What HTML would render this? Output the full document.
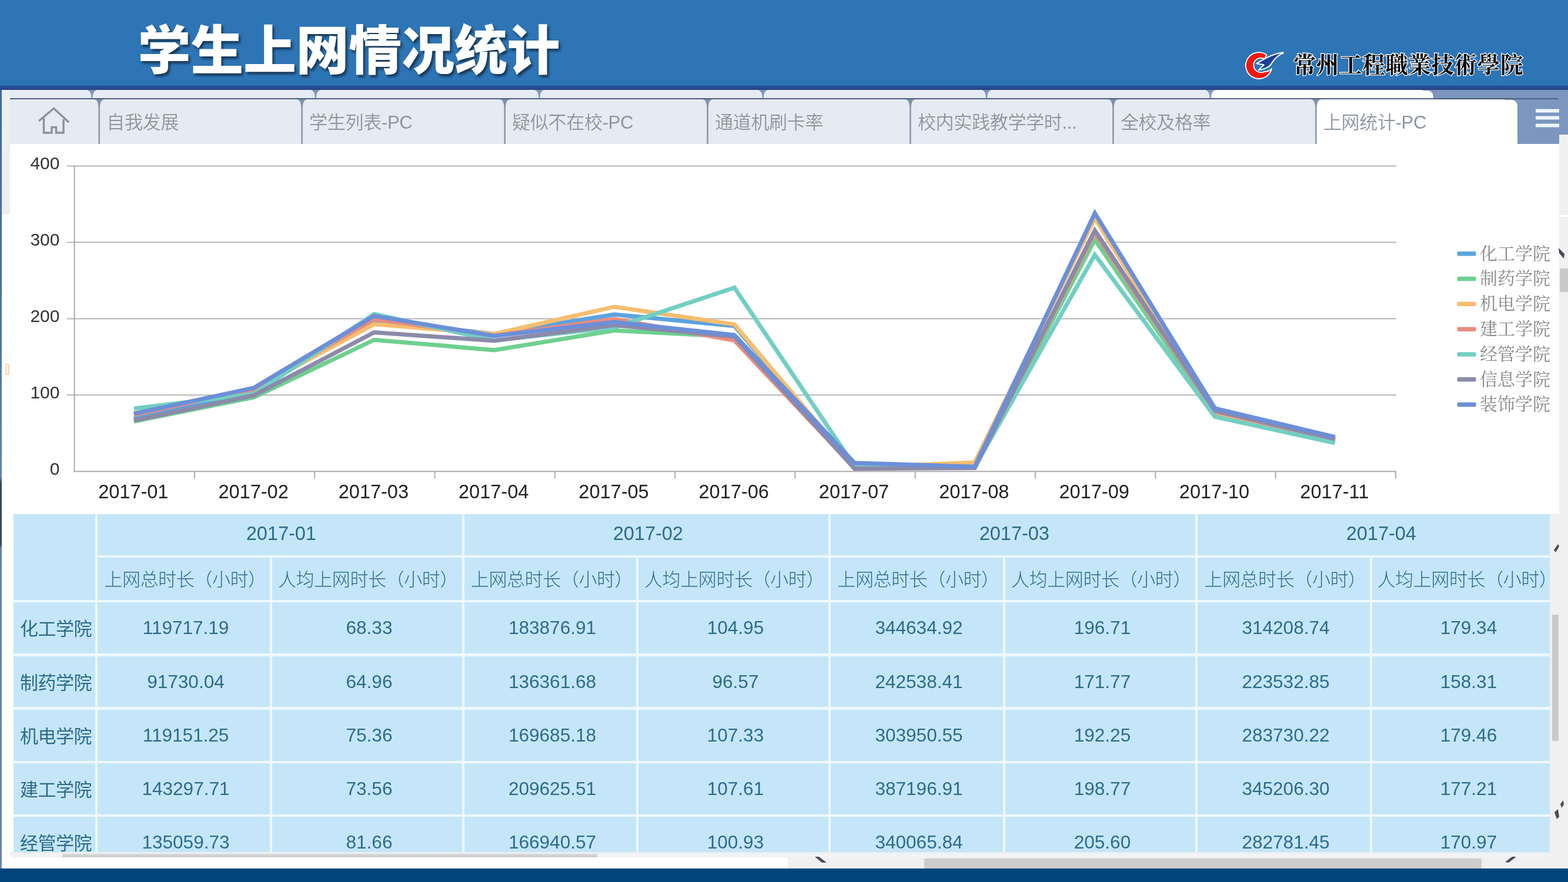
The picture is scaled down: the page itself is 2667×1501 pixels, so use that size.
<!DOCTYPE html><html lang="zh-CN"><head><meta charset="utf-8"><title>学生上网情况统计</title><style>
*{box-sizing:border-box;margin:0;padding:0}
html,body{width:2667px;height:1501px;overflow:hidden;background:#fff}
body{position:relative;font-family:"Liberation Sans","Noto Sans CJK SC",sans-serif;}
.abs{position:absolute}
#hdr{left:0;top:0;width:2667px;height:147px;background:#2E75B6}
#title{left:234.5px;top:21.5px;font-size:90px;line-height:130px;height:130px;font-weight:900;color:#fff;white-space:nowrap;text-shadow:3px 4px 4px rgba(0,0,0,.55);letter-spacing:-0.3px}
#band{left:0;top:145px;width:2667px;height:8.4px;background:linear-gradient(#3170B6 0%,#1F4F99 22%,#244C93 55%,#2A4686 80%,#2D4078 100%)}
#logotxt{left:2200px;top:83px;width:396px;height:56px;line-height:56px;font-family:"Liberation Serif","Noto Serif CJK SC",serif;font-weight:700;font-size:38.5px;letter-spacing:0.6px;color:#0a0a0a;white-space:nowrap;-webkit-text-stroke:2.6px #fff;paint-order:stroke fill}
#tabs{left:0;top:153px;width:2667px;height:92px;background:#E6EAF2}
.tab{position:absolute;top:170px;height:75px;line-height:78px;font-size:31px;font-weight:350;color:#8D95A1;white-space:nowrap;padding-left:12.5px;letter-spacing:-0.3px}
#chart{left:0;top:245px;width:2667px;height:629px;background:#fff}
.cell{position:absolute;background:#C5E6F8;color:#2C6C89;text-align:center;white-space:nowrap;overflow:hidden}
#foot{left:0;top:1478px;width:2667px;height:23px;background:#00467A}
</style></head><body>
<div id="hdr" class="abs"></div>
<div id="title" class="abs">学生上网情况统计</div>
<svg class="abs" style="left:2110px;top:82px" width="82" height="60" viewBox="0 0 82 60">
<path d="M44.5 11.4 A22.4 22.4 0 1 0 53 35 Q47 40.8 40.9 39.7 A12.4 12.4 0 1 1 40.9 18.3 Q43 15 44.5 11.4 Z" fill="#F0180E" stroke="#fff" stroke-width="1.8" stroke-linejoin="round"/>
<path d="M72.5 7.6 C59 8.5 44 15.5 27.5 26.2 L39.9 28.2 L30.6 37.4 C42 35.6 49.5 31.8 52.7 26 C55.5 21 62 13.5 72.5 7.6 Z" fill="#1B3F98" stroke="#fff" stroke-width="2" stroke-linejoin="round"/>
<rect x="69.5" y="6.5" width="3.6" height="3.6" fill="#fff"/>
</svg>
<div id="logotxt" class="abs">常州工程職業技術學院</div>
<div id="band" class="abs"></div>
<div id="tabs" class="abs"></div>
<div class="abs" style="left:0;top:153px;width:3px;height:1325px;background:linear-gradient(#3D68AF 0,#4C72B4 30%,#5E82BC 49.8%,#3A4A5E 50.4%,#3A4A5E 58.4%,#6282B8 58.9%,#6685BA 100%)"></div>
<div class="abs" style="left:3px;top:153px;width:14px;height:212px;background:#EDEEF0"></div>
<div class="abs" style="left:2420px;top:153px;width:247px;height:16px;background:#7C96BF"></div>
<div class="abs" style="left:2062px;top:154px;width:376px;height:16px;background:#fff;border-radius:10px 10px 0 0"></div>
<div class="abs" style="left:2560px;top:168px;width:107px;height:77px;background:#7C96BF"></div>
<div class="abs" style="left:17px;top:167px;width:2633px;height:2.2px;background:#4E617F"></div>
<div class="abs" style="left:2239px;top:169.5px;width:342px;height:76px;background:#fff;border-radius:10px 10px 0 0"></div>
<svg class="abs" style="left:0;top:153px" width="2667" height="92" viewBox="0 153 2667 92"><path d="M159.7 169 Q167.5 170 167.5 184 L167.5 245 L169.9 245 L169.9 184 Q169.9 170 177.7 169 Z" fill="#8391A8"/><path d="M504.6 169 Q512.4 170 512.4 184 L512.4 245 L514.8 245 L514.8 184 Q514.8 170 522.6 169 Z" fill="#8391A8"/><path d="M849.6 169 Q857.4 170 857.4 184 L857.4 245 L859.8 245 L859.8 184 Q859.8 170 867.6 169 Z" fill="#8391A8"/><path d="M1194.5 169 Q1202.3 170 1202.3 184 L1202.3 245 L1204.7 245 L1204.7 184 Q1204.7 170 1212.5 169 Z" fill="#8391A8"/><path d="M1539.4 169 Q1547.2 170 1547.2 184 L1547.2 245 L1549.6 245 L1549.6 184 Q1549.6 170 1557.4 169 Z" fill="#8391A8"/><path d="M1884.4 169 Q1892.2 170 1892.2 184 L1892.2 245 L1894.6 245 L1894.6 184 Q1894.6 170 1902.4 169 Z" fill="#8391A8"/><path d="M2229.3 169 Q2237.1 170 2237.1 184 L2237.1 245 L2239.5 245 L2239.5 184 Q2239.5 170 2247.3 169 Z" fill="#8391A8"/><path d="M148.5 153 Q155.5 155 155.5 167 L157.5 167 Q157.5 155 164.5 153 Z" fill="#7F95B8"/><path d="M528.9 153 Q535.9 155 535.9 167 L537.9 167 Q537.9 155 544.9 153 Z" fill="#7F95B8"/><path d="M909.3 153 Q916.3 155 916.3 167 L918.3 167 Q918.3 155 925.3 153 Z" fill="#7F95B8"/><path d="M1289.7 153 Q1296.7 155 1296.7 167 L1298.7 167 Q1298.7 155 1305.7 153 Z" fill="#7F95B8"/><path d="M1670.1 153 Q1677.1 155 1677.1 167 L1679.1 167 Q1679.1 155 1686.1 153 Z" fill="#7F95B8"/><path d="M2050.5 153 Q2057.5 155 2057.5 167 L2059.5 167 Q2059.5 155 2066.5 153 Z" fill="#7F95B8"/><path d="M2430.9 153 Q2437.9 155 2437.9 167 L2439.9 167 Q2439.9 155 2446.9 153 Z" fill="#7F95B8"/><g fill="none" stroke="#8A929C" stroke-width="3.4" stroke-linejoin="miter"><path d="M66 206 L91.5 184.5 L117 208"/><path d="M74.5 201 L74.5 226 L88 226 L88 216.5 L95.5 216.5 L95.5 226 L108 226 L108 203"/></g><rect x="2612" y="185.5" width="40" height="6" fill="#EDF6FF"/><rect x="2612" y="197.5" width="40" height="6" fill="#EDF6FF"/><rect x="2612" y="210.5" width="40" height="6" fill="#EDF6FF"/></svg>
<div class="tab" style="left:168.7px">自我发展</div>
<div class="tab" style="left:513.6px">学生列表-PC</div>
<div class="tab" style="left:858.6px">疑似不在校-PC</div>
<div class="tab" style="left:1203.5px">通道机刷卡率</div>
<div class="tab" style="left:1548.4px">校内实践教学学时...</div>
<div class="tab" style="left:1893.4px">全校及格率</div>
<div class="tab" style="left:2238.3px">上网统计-PC</div>
<div class="abs" style="left:8.5px;top:619px;width:7px;height:19px;border:2px solid #F3D9A0;border-radius:2px"></div>
<div class="abs" style="left:2652px;top:229px;width:15px;height:1249px;background:#F0F0F0"></div>
<div class="abs" style="left:2652px;top:366px;width:15px;height:3px;background:#fff"></div>
<div class="abs" style="left:2653px;top:457px;width:14px;height:40px;background:#C9C9C9"></div>
<svg class="abs" style="left:0;top:245px" width="2667" height="629" viewBox="0 245 2667 629"><rect x="114" y="671.3" width="2260.9" height="2" fill="#B4B4B4"/><rect x="114" y="541.4" width="2260.9" height="2" fill="#B4B4B4"/><rect x="114" y="411.4" width="2260.9" height="2" fill="#B4B4B4"/><rect x="114" y="281.5" width="2260.9" height="2" fill="#B4B4B4"/><rect x="125.6" y="282.5" width="2" height="520.8" fill="#ABABAB"/><rect x="125.6" y="801.3" width="2249.3" height="2" fill="#ABABAB"/><rect x="329.9" y="802.3" width="2" height="12" fill="#ABABAB"/><rect x="534.2" y="802.3" width="2" height="12" fill="#ABABAB"/><rect x="738.5" y="802.3" width="2" height="12" fill="#ABABAB"/><rect x="942.8" y="802.3" width="2" height="12" fill="#ABABAB"/><rect x="1147.1" y="802.3" width="2" height="12" fill="#ABABAB"/><rect x="1351.4" y="802.3" width="2" height="12" fill="#ABABAB"/><rect x="1555.7" y="802.3" width="2" height="12" fill="#ABABAB"/><rect x="1760.0" y="802.3" width="2" height="12" fill="#ABABAB"/><rect x="1964.3" y="802.3" width="2" height="12" fill="#ABABAB"/><rect x="2168.6" y="802.3" width="2" height="12" fill="#ABABAB"/><rect x="2372.9" y="802.3" width="2" height="12" fill="#ABABAB"/><text x="101.5" y="807.8" text-anchor="end" font-size="30" fill="#333" font-family='"Liberation Sans","Noto Sans CJK SC",sans-serif'>0</text><text x="101.5" y="677.8" text-anchor="end" font-size="30" fill="#333" font-family='"Liberation Sans","Noto Sans CJK SC",sans-serif'>100</text><text x="101.5" y="547.9" text-anchor="end" font-size="30" fill="#333" font-family='"Liberation Sans","Noto Sans CJK SC",sans-serif'>200</text><text x="101.5" y="417.9" text-anchor="end" font-size="30" fill="#333" font-family='"Liberation Sans","Noto Sans CJK SC",sans-serif'>300</text><text x="101.5" y="288.0" text-anchor="end" font-size="30" fill="#333" font-family='"Liberation Sans","Noto Sans CJK SC",sans-serif'>400</text><text x="226.8" y="848" text-anchor="middle" font-size="32.5" fill="#222" font-family='"Liberation Sans","Noto Sans CJK SC",sans-serif'>2017-01</text><text x="431.1" y="848" text-anchor="middle" font-size="32.5" fill="#222" font-family='"Liberation Sans","Noto Sans CJK SC",sans-serif'>2017-02</text><text x="635.4" y="848" text-anchor="middle" font-size="32.5" fill="#222" font-family='"Liberation Sans","Noto Sans CJK SC",sans-serif'>2017-03</text><text x="839.7" y="848" text-anchor="middle" font-size="32.5" fill="#222" font-family='"Liberation Sans","Noto Sans CJK SC",sans-serif'>2017-04</text><text x="1044.0" y="848" text-anchor="middle" font-size="32.5" fill="#222" font-family='"Liberation Sans","Noto Sans CJK SC",sans-serif'>2017-05</text><text x="1248.2" y="848" text-anchor="middle" font-size="32.5" fill="#222" font-family='"Liberation Sans","Noto Sans CJK SC",sans-serif'>2017-06</text><text x="1452.5" y="848" text-anchor="middle" font-size="32.5" fill="#222" font-family='"Liberation Sans","Noto Sans CJK SC",sans-serif'>2017-07</text><text x="1656.8" y="848" text-anchor="middle" font-size="32.5" fill="#222" font-family='"Liberation Sans","Noto Sans CJK SC",sans-serif'>2017-08</text><text x="1861.2" y="848" text-anchor="middle" font-size="32.5" fill="#222" font-family='"Liberation Sans","Noto Sans CJK SC",sans-serif'>2017-09</text><text x="2065.5" y="848" text-anchor="middle" font-size="32.5" fill="#222" font-family='"Liberation Sans","Noto Sans CJK SC",sans-serif'>2017-10</text><text x="2269.8" y="848" text-anchor="middle" font-size="32.5" fill="#222" font-family='"Liberation Sans","Noto Sans CJK SC",sans-serif'>2017-11</text><polyline points="227.8,712.7 432.1,665.1 636.4,545.9 840.7,568.4 1045.0,535.1 1249.2,554.6 1453.5,795.0 1657.8,795.0 1862.2,403.9 2066.5,702.7 2270.8,749.5" fill="none" stroke="#5CA3DE" stroke-width="7.2" stroke-linejoin="miter" stroke-miterlimit="10"/><polyline points="227.8,717.1 432.1,676.0 636.4,578.3 840.7,595.8 1045.0,562.4 1249.2,572.8 1453.5,796.3 1657.8,796.3 1862.2,407.8 2066.5,705.3 2270.8,752.1" fill="none" stroke="#6ED08F" stroke-width="7.2" stroke-linejoin="miter" stroke-miterlimit="10"/><polyline points="227.8,703.6 432.1,662.0 636.4,551.7 840.7,568.3 1045.0,522.1 1249.2,552.0 1453.5,795.0 1657.8,787.2 1862.2,371.4 2066.5,701.4 2270.8,749.5" fill="none" stroke="#F5BE70" stroke-width="7.2" stroke-linejoin="miter" stroke-miterlimit="10"/><polyline points="227.8,705.9 432.1,661.7 636.4,543.2 840.7,571.2 1045.0,542.9 1249.2,579.3 1453.5,796.3 1657.8,795.0 1862.2,396.1 2066.5,700.1 2270.8,748.2" fill="none" stroke="#EA8C7E" stroke-width="7.2" stroke-linejoin="miter" stroke-miterlimit="10"/><polyline points="227.8,695.4 432.1,670.3 636.4,534.3 840.7,579.3 1045.0,557.2 1249.2,489.6 1453.5,793.7 1657.8,795.0 1862.2,433.7 2066.5,709.2 2270.8,754.1" fill="none" stroke="#72CFC2" stroke-width="7.2" stroke-linejoin="miter" stroke-miterlimit="10"/><polyline points="227.8,715.7 432.1,672.8 636.4,565.6 840.7,579.9 1045.0,553.3 1249.2,572.8 1453.5,797.6 1657.8,796.3 1862.2,392.2 2066.5,698.8 2270.8,746.9" fill="none" stroke="#8B8AAA" stroke-width="7.2" stroke-linejoin="miter" stroke-miterlimit="10"/><polyline points="227.8,704.0 432.1,659.9 636.4,537.7 840.7,571.5 1045.0,548.1 1249.2,570.2 1453.5,787.9 1657.8,794.4 1862.2,362.9 2066.5,694.9 2270.8,743.7" fill="none" stroke="#6C8FD8" stroke-width="7.2" stroke-linejoin="miter" stroke-miterlimit="10"/><rect x="2478.5" y="428.0" width="32" height="7.5" rx="2" fill="#5CA3DE"/><text x="2517" y="441.5" font-size="30" fill="#888" font-family='"Liberation Serif","Noto Serif CJK SC",serif' font-weight="400">化工学院</text><rect x="2478.5" y="470.8" width="32" height="7.5" rx="2" fill="#6ED08F"/><text x="2517" y="484.3" font-size="30" fill="#888" font-family='"Liberation Serif","Noto Serif CJK SC",serif' font-weight="400">制药学院</text><rect x="2478.5" y="513.6" width="32" height="7.5" rx="2" fill="#F5BE70"/><text x="2517" y="527.1" font-size="30" fill="#888" font-family='"Liberation Serif","Noto Serif CJK SC",serif' font-weight="400">机电学院</text><rect x="2478.5" y="556.4" width="32" height="7.5" rx="2" fill="#EA8C7E"/><text x="2517" y="569.9" font-size="30" fill="#888" font-family='"Liberation Serif","Noto Serif CJK SC",serif' font-weight="400">建工学院</text><rect x="2478.5" y="599.2" width="32" height="7.5" rx="2" fill="#72CFC2"/><text x="2517" y="612.7" font-size="30" fill="#888" font-family='"Liberation Serif","Noto Serif CJK SC",serif' font-weight="400">经管学院</text><rect x="2478.5" y="642.0" width="32" height="7.5" rx="2" fill="#8B8AAA"/><text x="2517" y="655.5" font-size="30" fill="#888" font-family='"Liberation Serif","Noto Serif CJK SC",serif' font-weight="400">信息学院</text><rect x="2478.5" y="684.8" width="32" height="7.5" rx="2" fill="#6C8FD8"/><text x="2517" y="698.3" font-size="30" fill="#888" font-family='"Liberation Serif","Noto Serif CJK SC",serif' font-weight="400">装饰学院</text></svg>
<div class="abs" style="left:22.5px;top:874.5px;width:2613.5px;height:575.5px;background:#EEF8FD"></div>
<div class="cell" style="left:22.5px;top:874.5px;width:139.2px;height:146.0px;line-height:146.0px;font-size:30px;text-align:left;"></div>
<div class="cell" style="left:166.3px;top:874.5px;width:619.4000000000001px;height:70.0px;line-height:67.0px;font-size:32.5px;text-align:left;"><span style="display:inline-block;width:619.0px;text-align:center;position:relative;left:2.5px">2017-01</span></div>
<div class="cell" style="left:166.3px;top:949px;width:292.4px;height:71.5px;line-height:75.5px;font-size:31px;text-align:left;letter-spacing:-0.4px;font-weight:300"><span style="display:inline-block;width:292.4px;text-align:center;position:relative;left:2.5px">上网总时长（小时）</span></div>
<div class="cell" style="left:463.3px;top:949px;width:322.40000000000003px;height:71.5px;line-height:75.5px;font-size:31px;text-align:left;letter-spacing:-0.4px;font-weight:300"><span style="display:inline-block;width:322.4px;text-align:center;position:relative;left:1.5px">人均上网时长（小时）</span></div>
<div class="cell" style="left:790.3px;top:874.5px;width:618.4000000000001px;height:70.0px;line-height:67.0px;font-size:32.5px;text-align:left;"><span style="display:inline-block;width:619.0px;text-align:center;position:relative;left:2.5px">2017-02</span></div>
<div class="cell" style="left:790.3px;top:949px;width:291.4000000000001px;height:71.5px;line-height:75.5px;font-size:31px;text-align:left;letter-spacing:-0.4px;font-weight:300"><span style="display:inline-block;width:291.4px;text-align:center;position:relative;left:2.5px">上网总时长（小时）</span></div>
<div class="cell" style="left:1086.3px;top:949px;width:322.4000000000001px;height:71.5px;line-height:75.5px;font-size:31px;text-align:left;letter-spacing:-0.4px;font-weight:300"><span style="display:inline-block;width:322.4px;text-align:center;position:relative;left:1.5px">人均上网时长（小时）</span></div>
<div class="cell" style="left:1413.3px;top:874.5px;width:619.4000000000001px;height:70.0px;line-height:67.0px;font-size:32.5px;text-align:left;"><span style="display:inline-block;width:619.0px;text-align:center;position:relative;left:2.5px">2017-03</span></div>
<div class="cell" style="left:1413.3px;top:949px;width:292.4000000000001px;height:71.5px;line-height:75.5px;font-size:31px;text-align:left;letter-spacing:-0.4px;font-weight:300"><span style="display:inline-block;width:292.4px;text-align:center;position:relative;left:2.5px">上网总时长（小时）</span></div>
<div class="cell" style="left:1710.3px;top:949px;width:322.4000000000001px;height:71.5px;line-height:75.5px;font-size:31px;text-align:left;letter-spacing:-0.4px;font-weight:300"><span style="display:inline-block;width:322.4px;text-align:center;position:relative;left:1.5px">人均上网时长（小时）</span></div>
<div class="cell" style="left:2037.3px;top:874.5px;width:598.7px;height:70.0px;line-height:67.0px;font-size:32.5px;text-align:left;"><span style="display:inline-block;width:619.0px;text-align:center;position:relative;left:2.5px">2017-04</span></div>
<div class="cell" style="left:2037.3px;top:949px;width:292.39999999999986px;height:71.5px;line-height:75.5px;font-size:31px;text-align:left;letter-spacing:-0.4px;font-weight:300"><span style="display:inline-block;width:292.4px;text-align:center;position:relative;left:2.5px">上网总时长（小时）</span></div>
<div class="cell" style="left:2334.3px;top:949px;width:301.6999999999998px;height:71.5px;line-height:75.5px;font-size:31px;text-align:left;letter-spacing:-0.4px;font-weight:300"><span style="display:inline-block;width:322.4px;text-align:center;position:relative;left:0px">人均上网时长（小时）</span></div>
<div class="cell" style="left:22.5px;top:1025px;width:139.2px;height:86.5px;line-height:92.5px;font-size:31px;text-align:left;letter-spacing:-0.5px;"><span style="display:inline-block;width:139.2px;text-align:center;position:relative;left:3px">化工学院</span></div>
<div class="cell" style="left:166.3px;top:1025px;width:292.4px;height:86.5px;line-height:87.5px;font-size:31.5px;text-align:left;"><span style="display:inline-block;width:292.4px;text-align:center;position:relative;left:3.5px">119717.19</span></div>
<div class="cell" style="left:463.3px;top:1025px;width:322.40000000000003px;height:86.5px;line-height:87.5px;font-size:31.5px;text-align:left;"><span style="display:inline-block;width:322.4px;text-align:center;position:relative;left:3.5px">68.33</span></div>
<div class="cell" style="left:790.3px;top:1025px;width:291.4000000000001px;height:86.5px;line-height:87.5px;font-size:31.5px;text-align:left;"><span style="display:inline-block;width:291.4px;text-align:center;position:relative;left:3.5px">183876.91</span></div>
<div class="cell" style="left:1086.3px;top:1025px;width:322.4000000000001px;height:86.5px;line-height:87.5px;font-size:31.5px;text-align:left;"><span style="display:inline-block;width:322.4px;text-align:center;position:relative;left:3.5px">104.95</span></div>
<div class="cell" style="left:1413.3px;top:1025px;width:292.4000000000001px;height:86.5px;line-height:87.5px;font-size:31.5px;text-align:left;"><span style="display:inline-block;width:292.4px;text-align:center;position:relative;left:3.5px">344634.92</span></div>
<div class="cell" style="left:1710.3px;top:1025px;width:322.4000000000001px;height:86.5px;line-height:87.5px;font-size:31.5px;text-align:left;"><span style="display:inline-block;width:322.4px;text-align:center;position:relative;left:3.5px">196.71</span></div>
<div class="cell" style="left:2037.3px;top:1025px;width:292.39999999999986px;height:86.5px;line-height:87.5px;font-size:31.5px;text-align:left;"><span style="display:inline-block;width:292.4px;text-align:center;position:relative;left:3.5px">314208.74</span></div>
<div class="cell" style="left:2334.3px;top:1025px;width:301.6999999999998px;height:86.5px;line-height:87.5px;font-size:31.5px;text-align:left;"><span style="display:inline-block;width:322.4px;text-align:center;position:relative;left:2.5px">179.34</span></div>
<div class="cell" style="left:22.5px;top:1116.5px;width:139.2px;height:86.5px;line-height:92.5px;font-size:31px;text-align:left;letter-spacing:-0.5px;"><span style="display:inline-block;width:139.2px;text-align:center;position:relative;left:3px">制药学院</span></div>
<div class="cell" style="left:166.3px;top:1116.5px;width:292.4px;height:86.5px;line-height:87.5px;font-size:31.5px;text-align:left;"><span style="display:inline-block;width:292.4px;text-align:center;position:relative;left:3.5px">91730.04</span></div>
<div class="cell" style="left:463.3px;top:1116.5px;width:322.40000000000003px;height:86.5px;line-height:87.5px;font-size:31.5px;text-align:left;"><span style="display:inline-block;width:322.4px;text-align:center;position:relative;left:3.5px">64.96</span></div>
<div class="cell" style="left:790.3px;top:1116.5px;width:291.4000000000001px;height:86.5px;line-height:87.5px;font-size:31.5px;text-align:left;"><span style="display:inline-block;width:291.4px;text-align:center;position:relative;left:3.5px">136361.68</span></div>
<div class="cell" style="left:1086.3px;top:1116.5px;width:322.4000000000001px;height:86.5px;line-height:87.5px;font-size:31.5px;text-align:left;"><span style="display:inline-block;width:322.4px;text-align:center;position:relative;left:3.5px">96.57</span></div>
<div class="cell" style="left:1413.3px;top:1116.5px;width:292.4000000000001px;height:86.5px;line-height:87.5px;font-size:31.5px;text-align:left;"><span style="display:inline-block;width:292.4px;text-align:center;position:relative;left:3.5px">242538.41</span></div>
<div class="cell" style="left:1710.3px;top:1116.5px;width:322.4000000000001px;height:86.5px;line-height:87.5px;font-size:31.5px;text-align:left;"><span style="display:inline-block;width:322.4px;text-align:center;position:relative;left:3.5px">171.77</span></div>
<div class="cell" style="left:2037.3px;top:1116.5px;width:292.39999999999986px;height:86.5px;line-height:87.5px;font-size:31.5px;text-align:left;"><span style="display:inline-block;width:292.4px;text-align:center;position:relative;left:3.5px">223532.85</span></div>
<div class="cell" style="left:2334.3px;top:1116.5px;width:301.6999999999998px;height:86.5px;line-height:87.5px;font-size:31.5px;text-align:left;"><span style="display:inline-block;width:322.4px;text-align:center;position:relative;left:2.5px">158.31</span></div>
<div class="cell" style="left:22.5px;top:1208px;width:139.2px;height:86.5px;line-height:92.5px;font-size:31px;text-align:left;letter-spacing:-0.5px;"><span style="display:inline-block;width:139.2px;text-align:center;position:relative;left:3px">机电学院</span></div>
<div class="cell" style="left:166.3px;top:1208px;width:292.4px;height:86.5px;line-height:87.5px;font-size:31.5px;text-align:left;"><span style="display:inline-block;width:292.4px;text-align:center;position:relative;left:3.5px">119151.25</span></div>
<div class="cell" style="left:463.3px;top:1208px;width:322.40000000000003px;height:86.5px;line-height:87.5px;font-size:31.5px;text-align:left;"><span style="display:inline-block;width:322.4px;text-align:center;position:relative;left:3.5px">75.36</span></div>
<div class="cell" style="left:790.3px;top:1208px;width:291.4000000000001px;height:86.5px;line-height:87.5px;font-size:31.5px;text-align:left;"><span style="display:inline-block;width:291.4px;text-align:center;position:relative;left:3.5px">169685.18</span></div>
<div class="cell" style="left:1086.3px;top:1208px;width:322.4000000000001px;height:86.5px;line-height:87.5px;font-size:31.5px;text-align:left;"><span style="display:inline-block;width:322.4px;text-align:center;position:relative;left:3.5px">107.33</span></div>
<div class="cell" style="left:1413.3px;top:1208px;width:292.4000000000001px;height:86.5px;line-height:87.5px;font-size:31.5px;text-align:left;"><span style="display:inline-block;width:292.4px;text-align:center;position:relative;left:3.5px">303950.55</span></div>
<div class="cell" style="left:1710.3px;top:1208px;width:322.4000000000001px;height:86.5px;line-height:87.5px;font-size:31.5px;text-align:left;"><span style="display:inline-block;width:322.4px;text-align:center;position:relative;left:3.5px">192.25</span></div>
<div class="cell" style="left:2037.3px;top:1208px;width:292.39999999999986px;height:86.5px;line-height:87.5px;font-size:31.5px;text-align:left;"><span style="display:inline-block;width:292.4px;text-align:center;position:relative;left:3.5px">283730.22</span></div>
<div class="cell" style="left:2334.3px;top:1208px;width:301.6999999999998px;height:86.5px;line-height:87.5px;font-size:31.5px;text-align:left;"><span style="display:inline-block;width:322.4px;text-align:center;position:relative;left:2.5px">179.46</span></div>
<div class="cell" style="left:22.5px;top:1299px;width:139.2px;height:86.5px;line-height:92.5px;font-size:31px;text-align:left;letter-spacing:-0.5px;"><span style="display:inline-block;width:139.2px;text-align:center;position:relative;left:3px">建工学院</span></div>
<div class="cell" style="left:166.3px;top:1299px;width:292.4px;height:86.5px;line-height:87.5px;font-size:31.5px;text-align:left;"><span style="display:inline-block;width:292.4px;text-align:center;position:relative;left:3.5px">143297.71</span></div>
<div class="cell" style="left:463.3px;top:1299px;width:322.40000000000003px;height:86.5px;line-height:87.5px;font-size:31.5px;text-align:left;"><span style="display:inline-block;width:322.4px;text-align:center;position:relative;left:3.5px">73.56</span></div>
<div class="cell" style="left:790.3px;top:1299px;width:291.4000000000001px;height:86.5px;line-height:87.5px;font-size:31.5px;text-align:left;"><span style="display:inline-block;width:291.4px;text-align:center;position:relative;left:3.5px">209625.51</span></div>
<div class="cell" style="left:1086.3px;top:1299px;width:322.4000000000001px;height:86.5px;line-height:87.5px;font-size:31.5px;text-align:left;"><span style="display:inline-block;width:322.4px;text-align:center;position:relative;left:3.5px">107.61</span></div>
<div class="cell" style="left:1413.3px;top:1299px;width:292.4000000000001px;height:86.5px;line-height:87.5px;font-size:31.5px;text-align:left;"><span style="display:inline-block;width:292.4px;text-align:center;position:relative;left:3.5px">387196.91</span></div>
<div class="cell" style="left:1710.3px;top:1299px;width:322.4000000000001px;height:86.5px;line-height:87.5px;font-size:31.5px;text-align:left;"><span style="display:inline-block;width:322.4px;text-align:center;position:relative;left:3.5px">198.77</span></div>
<div class="cell" style="left:2037.3px;top:1299px;width:292.39999999999986px;height:86.5px;line-height:87.5px;font-size:31.5px;text-align:left;"><span style="display:inline-block;width:292.4px;text-align:center;position:relative;left:3.5px">345206.30</span></div>
<div class="cell" style="left:2334.3px;top:1299px;width:301.6999999999998px;height:86.5px;line-height:87.5px;font-size:31.5px;text-align:left;"><span style="display:inline-block;width:322.4px;text-align:center;position:relative;left:2.5px">177.21</span></div>
<div class="cell" style="left:22.5px;top:1390px;width:139.2px;height:60px;line-height:92.5px;font-size:31px;text-align:left;letter-spacing:-0.5px;"><span style="display:inline-block;width:139.2px;text-align:center;position:relative;left:3px">经管学院</span></div>
<div class="cell" style="left:166.3px;top:1390px;width:292.4px;height:60px;line-height:87.5px;font-size:31.5px;text-align:left;"><span style="display:inline-block;width:292.4px;text-align:center;position:relative;left:3.5px">135059.73</span></div>
<div class="cell" style="left:463.3px;top:1390px;width:322.40000000000003px;height:60px;line-height:87.5px;font-size:31.5px;text-align:left;"><span style="display:inline-block;width:322.4px;text-align:center;position:relative;left:3.5px">81.66</span></div>
<div class="cell" style="left:790.3px;top:1390px;width:291.4000000000001px;height:60px;line-height:87.5px;font-size:31.5px;text-align:left;"><span style="display:inline-block;width:291.4px;text-align:center;position:relative;left:3.5px">166940.57</span></div>
<div class="cell" style="left:1086.3px;top:1390px;width:322.4000000000001px;height:60px;line-height:87.5px;font-size:31.5px;text-align:left;"><span style="display:inline-block;width:322.4px;text-align:center;position:relative;left:3.5px">100.93</span></div>
<div class="cell" style="left:1413.3px;top:1390px;width:292.4000000000001px;height:60px;line-height:87.5px;font-size:31.5px;text-align:left;"><span style="display:inline-block;width:292.4px;text-align:center;position:relative;left:3.5px">340065.84</span></div>
<div class="cell" style="left:1710.3px;top:1390px;width:322.4000000000001px;height:60px;line-height:87.5px;font-size:31.5px;text-align:left;"><span style="display:inline-block;width:322.4px;text-align:center;position:relative;left:3.5px">205.60</span></div>
<div class="cell" style="left:2037.3px;top:1390px;width:292.39999999999986px;height:60px;line-height:87.5px;font-size:31.5px;text-align:left;"><span style="display:inline-block;width:292.4px;text-align:center;position:relative;left:3.5px">282781.45</span></div>
<div class="cell" style="left:2334.3px;top:1390px;width:301.6999999999998px;height:60px;line-height:87.5px;font-size:31.5px;text-align:left;"><span style="display:inline-block;width:322.4px;text-align:center;position:relative;left:2.5px">170.97</span></div>
<div class="abs" style="left:2636px;top:874px;width:16px;height:585px;background:#F0F0F0"></div>
<div class="abs" style="left:2639.5px;top:1046px;width:11.5px;height:215px;background:#C8C9CB"></div>
<div class="abs" style="left:17px;top:1450px;width:2620px;height:9px;background:linear-gradient(#E3EEF5,#F3F3F3 40%)"></div>
<div class="abs" style="left:106px;top:1452.5px;width:910px;height:6.5px;background:linear-gradient(#DDDCDC,#D0CECE 50%)"></div>
<div class="abs" style="left:1340px;top:1459px;width:1312px;height:19px;background:#F0F0F0"></div>
<div class="abs" style="left:1572px;top:1461px;width:948px;height:17px;background:#CDCDCD"></div>
<svg class="abs" style="left:0;top:0;pointer-events:none" width="2667" height="1501" viewBox="0 0 2667 1501"><g fill="#474d55"><path d="M2651 422 L2661 432 L2660 440 L2652 431 Z"/><path d="M2643 936 L2650 926 L2652 930 L2646 940 Z"/><path d="M2644 1382 L2650 1377 L2652 1390 L2648 1394 Z M2654 1368 L2659 1362 L2660 1369 L2656 1375 Z"/><path d="M1386 1458 L1393 1458 L1406 1468 L1398 1468 Z"/><path d="M2560 1467 L2572 1458 L2579 1458 L2566 1468 Z"/></g></svg>
<div id="foot" class="abs"></div>
</body></html>
